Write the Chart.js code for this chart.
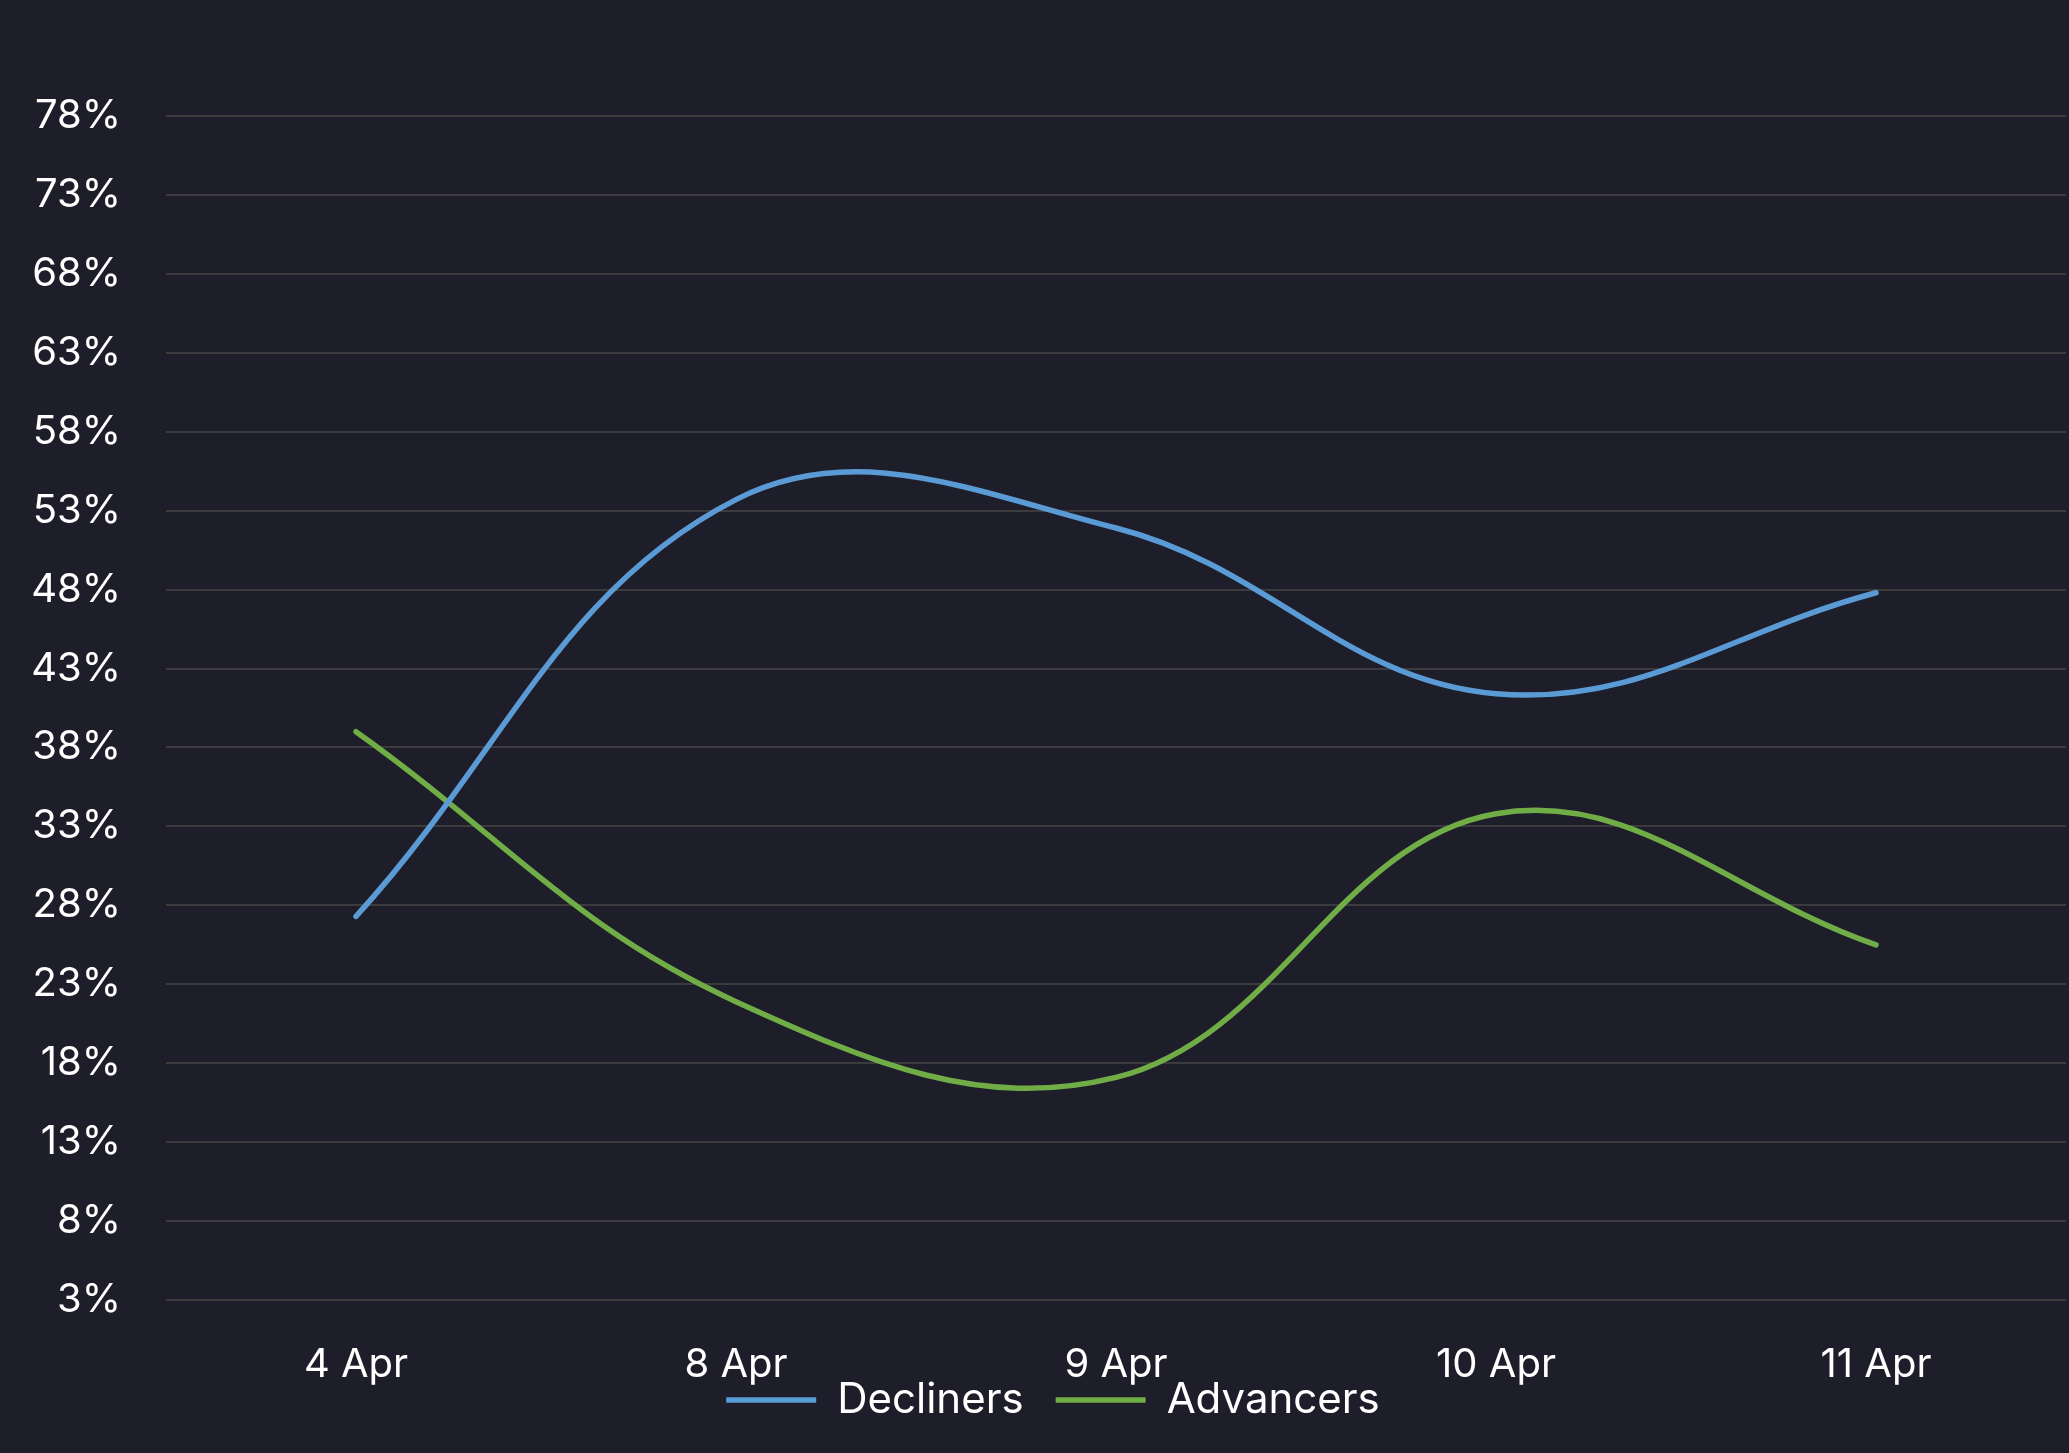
<!DOCTYPE html>
<html>
<head>
<meta charset="utf-8">
<script src="https://cdn.jsdelivr.net/npm/chart.js@4"></script>
<style>
  html, body { margin: 0; padding: 0; background: #1e1d2a; }
  #wrap { width: 2069px; height: 1453px; }
</style>
</head>
<body>
<div id="wrap"><canvas id="breadthChart"></canvas></div>
<script>
// data
const days = ["4 Apr", "8 Apr", "9 Apr", "10 Apr", "11 Apr"];
const decliners = [27.3, 53.7, 51.9, 41.4, 47.8];
const advancers = [39.0, 21.9, 17.1, 33.8, 25.5];

const textColor = "#ffffff";
const gridColor = "#3b3b3d";
const fontFamily = "Inter, 'Noto Sans', sans-serif";

// pull the legend up so it sits just under the x labels, like the original
// (only the top moves, so the legend clip box grows instead of cutting the text)
const legendNudge = {
    id: "legendNudge",
    afterLayout(chart) {
        if (chart.legend) {
            chart.legend.top -= 83;
            chart.legend.left += 20;
            chart.legend.right += 20;
        }
    }
};

document.addEventListener("DOMContentLoaded", function() {
    const ctx = document.getElementById("breadthChart").getContext("2d");
    new Chart(ctx, {
        type: "line",
        data: {
            labels: days,
            datasets: [{
                label: "Decliners",
                data: decliners,
                borderColor: "#5b9bd5",
                backgroundColor: "#5b9bd5",
                borderWidth: 5.5,
                borderCapStyle: "round",
                pointRadius: 0,
                tension: 0.39
            }, {
                label: "Advancers",
                data: advancers,
                borderColor: "#70ad47",
                backgroundColor: "#70ad47",
                borderWidth: 5.5,
                borderCapStyle: "round",
                pointRadius: 0,
                tension: 0.39
            }]
        },
        options: {
            responsive: true,
            maintainAspectRatio: false,
            animation: false,
            layout: { padding: { top: 116, right: 3, bottom: 0, left: 0 } },
            scales: {
                x: {
                    offset: true,
                    border: { display: false },
                    grid: { display: false, drawTicks: false },
                    ticks: {
                        color: textColor,
                        padding: 41,
                        font: { family: fontFamily, size: 40, lineHeight: 1.2 }
                    }
                },
                y: {
                    min: 3,
                    max: 78,
                    border: { display: false },
                    grid: { color: gridColor, lineWidth: 2, drawTicks: false },
                    ticks: {
                        stepSize: 5,
                        color: textColor,
                        padding: 45,
                        font: { family: fontFamily, size: 40 },
                        callback: v => v + "%"
                    },
                    afterFit(scale) { scale.width = 166; }
                }
            },
            plugins: {
                tooltip: { enabled: false },
                legend: {
                    position: "bottom",
                    maxHeight: 23,
                    labels: {
                        color: textColor,
                        usePointStyle: true,
                        pointStyle: "line",
                        pointStyleWidth: 90,
                        padding: 32,
                        font: { family: fontFamily, size: 42 }
                    }
                }
            }
        },
        plugins: [legendNudge]
    });
});
</script>
</body>
</html>
